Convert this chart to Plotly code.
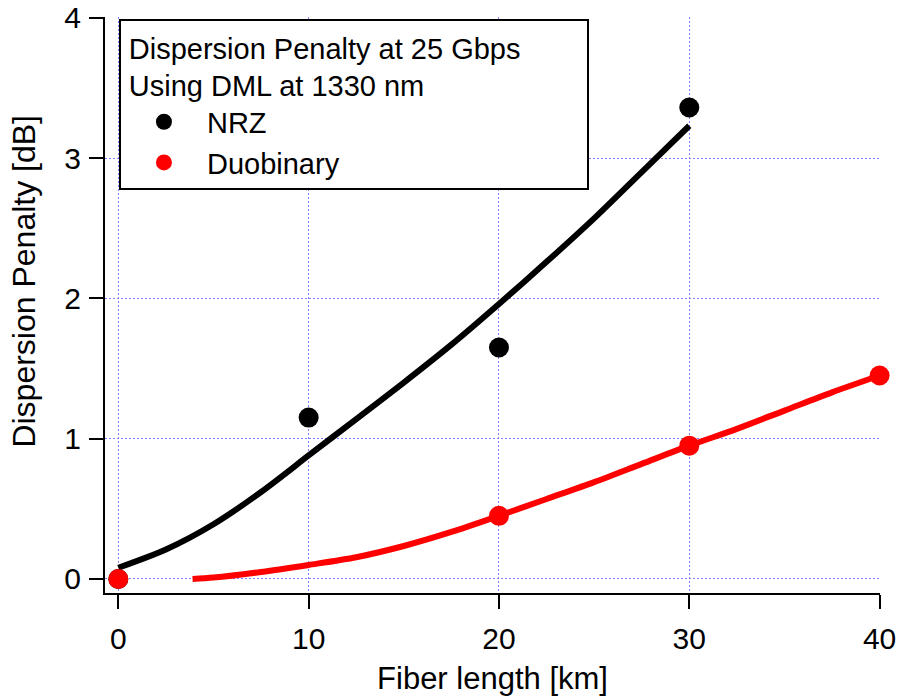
import plotly.graph_objects as go

# Measured points
nrz_x = [0, 10, 20, 30]
nrz_y = [0.0, 1.15, 1.65, 3.36]
duo_x = [0, 20, 30, 40]
duo_y = [0.0, 0.45, 0.95, 1.45]

# Fit curves
nrz_fit_x = [0, 2.5, 5, 7.5, 10, 12.5, 15, 17.5, 20, 22.5, 25, 27.5, 30]
nrz_fit_y = [0.08, 0.21, 0.39, 0.62, 0.88, 1.14, 1.40, 1.67, 1.96, 2.26, 2.57, 2.90, 3.23]
duo_fit_x = [3.9, 5, 7.5, 10, 12.5, 15, 17.5, 20, 22.5, 25, 27.5, 30, 32.5, 35, 37.5, 40]
duo_fit_y = [0.0, 0.01, 0.05, 0.10, 0.155, 0.235, 0.335, 0.45, 0.57, 0.69, 0.82, 0.95, 1.07, 1.2, 1.33, 1.45]

x_ticks = [0, 10, 20, 30, 40]
y_ticks = [0, 1, 2, 3, 4]

FONT = "Liberation Sans, Arial, sans-serif"
NB = "&nbsp;"
TS = "&#8201;"

fig = go.Figure()
fig.add_trace(go.Scatter(x=nrz_fit_x, y=nrz_fit_y, mode="lines",
                         line=dict(color="black", width=6, shape="spline", smoothing=0.8),
                         showlegend=False, hoverinfo="skip"))
fig.add_trace(go.Scatter(x=duo_fit_x, y=duo_fit_y, mode="lines",
                         line=dict(color="#ff0000", width=6, shape="spline", smoothing=0.8),
                         showlegend=False, hoverinfo="skip"))
fig.add_trace(go.Scatter(x=nrz_x, y=nrz_y, mode="markers", name="NRZ",
                         marker=dict(color="black", size=20), cliponaxis=False))
fig.add_trace(go.Scatter(x=duo_x, y=duo_y, mode="markers", name="Duobinary",
                         marker=dict(color="#ff0000", size=20), cliponaxis=False))

axis_common = dict(
    showline=True, linecolor="black", linewidth=2,
    ticks="outside", ticklen=14, tickwidth=2, tickcolor="black",
    showgrid=True, gridcolor="#8080ff", gridwidth=1, griddash="2px,2px",
    zeroline=False, automargin=False, ticklabeloverflow="allow",
    tickfont=dict(size=30, color="black", family=FONT),
)

fig.update_xaxes(range=[-0.7, 40.02], tickvals=x_ticks, ticktext=[str(v) for v in x_ticks],
                 title=dict(text="Fiber length [km]", font=dict(size=31, color="black", family=FONT), standoff=13),
                 ticklabelstandoff=4,
                 **axis_common)
fig.update_yaxes(range=[-0.1, 4.005], tickvals=y_ticks, ticktext=[str(v) for v in y_ticks],
                 ticklabelstandoff=2,
                 **axis_common)

fig.add_annotation(text="Dispersion Penalty [dB]", textangle=-90,
                   xref="paper", yref="paper", x=-0.105, y=0.5417,
                   xanchor="center", yanchor="middle", showarrow=False,
                   font=dict(size=32, color="black", family=FONT))

fig.update_layout(
    width=901, height=699,
    margin=dict(l=105, r=21, t=17, b=106, autoexpand=False),
    plot_bgcolor="white", paper_bgcolor="white",
    font=dict(family=FONT, color="black"),
    legend=dict(
        x=0.018, y=0.9965, xanchor="left", yanchor="top",
        bgcolor="white", bordercolor="black", borderwidth=2,
        font=dict(size=29, color="black", family=FONT),
        title=dict(text=TS + "Dispersion Penalty at 25 Gbps" + NB * 8 + "<br>" + TS + "Using DML at 1330 nm",
                   font=dict(size=29, color="black", family=FONT)),
        itemwidth=76, tracegroupgap=0,
    ),
)

# remove the default 8px page margin so the figure sits at the window's top-left corner
fig.write_html("out.html", config={"displayModeBar": False},
               post_script="document.body.style.margin='0';")
